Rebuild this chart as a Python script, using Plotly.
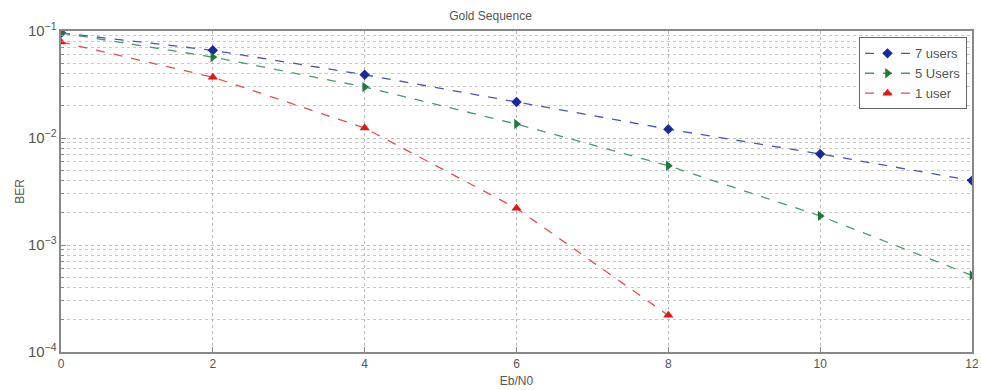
import plotly.graph_objects as go

ebn0 = [0, 2, 4, 6, 8, 10, 12]
ber_7 = [0.096, 0.066, 0.039, 0.0217, 0.0121, 0.0071, 0.0040]
ber_5 = [0.096, 0.057, 0.030, 0.0135, 0.0055, 0.00187, 0.00052]
ebn0_1 = [0, 2, 4, 6, 8]
ber_1 = [0.079, 0.037, 0.0124, 0.0022, 0.00022]

fig = go.Figure()
fig.add_trace(go.Scatter(x=ebn0, y=ber_7, name="7 users", mode="lines+markers",
                         line=dict(color="#4a55b8", dash="dash", width=1.3),
                         marker=dict(symbol="diamond", size=8, color="#1a2a9a")))
fig.add_trace(go.Scatter(x=ebn0, y=ber_5, name="5 Users", mode="lines+markers",
                         line=dict(color="#4a9a6a", dash="dash", width=1.3),
                         marker=dict(symbol="triangle-right", size=9, color="#1e7a3a")))
fig.add_trace(go.Scatter(x=ebn0_1, y=ber_1, name="1 user", mode="lines+markers",
                         line=dict(color="#e05050", dash="dash", width=1.3),
                         marker=dict(symbol="triangle-up", size=9, color="#e01818")))

axis_font = dict(family="Liberation Sans, Arial", size=12, color="#555")
fig.update_layout(
    width=981, height=390,
    margin=dict(l=61, r=9, t=31, b=38),
    paper_bgcolor="white", plot_bgcolor="white",
    font=axis_font,
    title=dict(text="Gold Sequence", x=0.5, xanchor="center", y=0.96, yanchor="middle",
               font=dict(size=12, color="#555")),
    showlegend=True,
    legend=dict(x=0.9945, xanchor="right", y=0.98, yanchor="top",
                bgcolor="white", bordercolor="#666", borderwidth=1, itemwidth=45,
                font=dict(size=13, color="#555"), tracegroupgap=0),
    xaxis=dict(range=[0, 12], dtick=2, showline=True, linecolor="#888", linewidth=2, mirror=True,
               showgrid=True, gridcolor="#bbb", griddash="dot", gridwidth=1, automargin=False,
               ticks="inside", ticklen=5, tickcolor="#888", zeroline=False,
               title=dict(text="Eb/N0", standoff=6, font=dict(size=12, color="#555"))),
    yaxis=dict(type="log", range=[-4, -1], dtick=1, exponentformat="power", automargin=False,
               showline=True, linecolor="#888", linewidth=2, mirror=True,
               showgrid=True, gridcolor="#bbb", griddash="dot", gridwidth=1,
               ticks="inside", ticklen=5, tickcolor="#888", zeroline=False,
               minor=dict(dtick="D1", showgrid=True, gridcolor="#c8c8c8", griddash="dot",
                          ticks="inside", ticklen=3, tickcolor="#888"),
               title=dict(text="BER", standoff=1, font=dict(size=12, color="#555"))),
)

fig.write_html("out.html")
